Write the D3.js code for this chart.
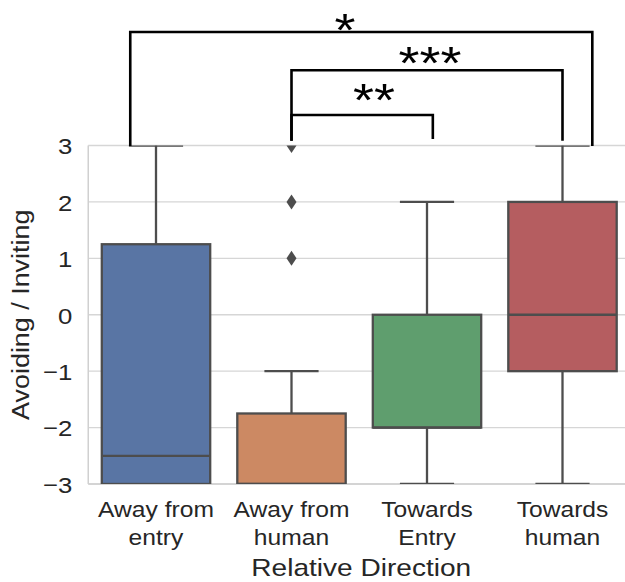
<!DOCTYPE html>
<html>
<head>
<meta charset="utf-8">
<script src="https://cdn.jsdelivr.net/npm/d3@7"></script>
<style>
  html, body { margin: 0; padding: 0; background: #fff; }
  svg { display: block; }
  text { font-family: "Liberation Sans", Arial, Helvetica, sans-serif; fill: #262626; }
</style>
</head>
<body>
<svg id="chart" width="625" height="582"></svg>
<script>
// ---- data ----
const categories = ["Away from\nentry", "Away from\nhuman", "Towards\nEntry", "Towards\nhuman"];
const whiskerLow  = [-3, -3, -3, -3];
const q1          = [-3, -3, -2, -1];
const median      = [-2.5, -3, -2, 0];
const q3          = [1.25, -1.75, 0, 2];
const whiskerHigh = [3, -1, 2, 3];
const outliers    = [[], [1, 2, 3], [], []];
const boxColors   = ["#5975a4", "#cc8963", "#5f9e6e", "#b55d60"];
const yTicks      = [-3, -2, -1, 0, 1, 2, 3];
const yLabel = "Avoiding / Inviting";
const xLabel = "Relative Direction";
// significance brackets (category index + offset, y in data units)
const bracketLabels = ["*", "***", "**"];
const bracketFrom   = [[0, -0.19], [1, 0], [1, 0]];
const bracketTo     = [[3, 0.22], [3, 0], [2, 0.043]];
const bracketTop    = [5.013, 4.335, 3.541];
const bracketBottom = [[2.99, 2.99], [3.083, 3.083], [3.083, 3.115]];
const labelPos      = [[1.395, 4.76], [2.022, 4.17], [1.609, 3.52]];

// ---- layout ----
const svg = d3.select("#chart");
const pLeft = 88.25, pRight = 630.25, pTop = 145.5, pBottom = 484;
const SX = 1.17;   // horizontal glyph stretch for labels
const SXT = 1.12;  // for tick labels

const x = d3.scaleBand().domain(d3.range(categories.length)).range([pLeft, pRight]).padding(0);
const cx = i => x(i) + x.bandwidth() / 2;
const xc = v => cx(0) + v * x.step();
const y = d3.scaleLinear().domain([-3, 3]).range([pBottom, pTop]);
const boxW = x.bandwidth() * 0.8;
const capW = boxW / 2;
const lineCol = "#4d4d4d";

svg.append("clipPath").attr("id", "plotclip")
  .append("rect").attr("x", pLeft).attr("y", pTop).attr("width", pRight - pLeft).attr("height", pBottom - pTop);

// grid
const grid = svg.append("g");
grid.selectAll("line").data(yTicks).join("line")
  .attr("x1", pLeft).attr("x2", pRight)
  .attr("y1", d => y(d)).attr("y2", d => y(d))
  .attr("stroke", "#d6d6d6").attr("stroke-width", 1.3);
// spines
svg.append("line").attr("x1", pLeft).attr("x2", pLeft).attr("y1", pTop).attr("y2", pBottom)
  .attr("stroke", "#d0d0d0").attr("stroke-width", 1.5);
svg.append("line").attr("x1", pLeft).attr("x2", pRight).attr("y1", pBottom).attr("y2", pBottom)
  .attr("stroke", "#d0d0d0").attr("stroke-width", 1.5);

// y axis tick labels via d3 axis
const yAxis = svg.append("g").attr("transform", `translate(${pLeft},0)`)
  .call(d3.axisLeft(y).tickValues(yTicks).tickSize(0).tickPadding(16).tickFormat(d => d < 0 ? "\u2212" + Math.abs(d) : d));
yAxis.select(".domain").remove();
yAxis.selectAll("text")
  .attr("font-size", 23).attr("fill", "#262626")
  .attr("font-family", "Liberation Sans, Arial, sans-serif")
  .attr("x", 0).attr("dy", "0.36em")
  .attr("transform", `translate(-16,0) scale(${SXT},1)`);

// boxes
const plot = svg.append("g").attr("clip-path", "url(#plotclip)");
const idx = d3.range(categories.length);
const g = plot.selectAll("g.box").data(idx).join("g").attr("class", "box");
g.append("line") // lower whisker
  .attr("x1", cx).attr("x2", cx).attr("y1", i => y(q1[i])).attr("y2", i => y(whiskerLow[i]))
  .attr("stroke", lineCol).attr("stroke-width", 2.3);
g.append("line") // upper whisker
  .attr("x1", cx).attr("x2", cx).attr("y1", i => y(q3[i])).attr("y2", i => y(whiskerHigh[i]))
  .attr("stroke", lineCol).attr("stroke-width", 2.3);
g.append("line") // lower cap
  .attr("x1", i => cx(i) - capW / 2).attr("x2", i => cx(i) + capW / 2)
  .attr("y1", i => y(whiskerLow[i])).attr("y2", i => y(whiskerLow[i]))
  .attr("stroke", lineCol).attr("stroke-width", 2.3);
g.append("line") // upper cap
  .attr("x1", i => cx(i) - capW / 2).attr("x2", i => cx(i) + capW / 2)
  .attr("y1", i => y(whiskerHigh[i])).attr("y2", i => y(whiskerHigh[i]))
  .attr("stroke", lineCol).attr("stroke-width", 2.3);
g.append("rect")
  .attr("x", i => cx(i) - boxW / 2).attr("width", boxW)
  .attr("y", i => y(q3[i])).attr("height", i => y(q1[i]) - y(q3[i]))
  .attr("fill", i => boxColors[i]).attr("stroke", lineCol).attr("stroke-width", 2.3);
g.append("line") // median
  .attr("x1", i => cx(i) - boxW / 2).attr("x2", i => cx(i) + boxW / 2)
  .attr("y1", i => y(median[i])).attr("y2", i => y(median[i]))
  .attr("stroke", lineCol).attr("stroke-width", 2.3);
// outliers (thin diamonds)
const outPts = idx.flatMap(i => outliers[i].map(v => ({i, v})));
plot.selectAll("path.out").data(outPts).join("path").attr("class", "out")
  .attr("d", "M0,-7.5 L5,0 L0,7.5 L-5,0 Z")
  .attr("transform", d => `translate(${cx(d.i)},${y(d.v)})`)
  .attr("fill", lineCol);

// x tick labels
const xt = svg.append("g");
idx.forEach(i => {
  const lines = categories[i].split("\n");
  lines.forEach((ln, k) => {
    xt.append("text")
      .attr("transform", `translate(${cx(i)},${516.7 + k * 28.3}) scale(${SXT},1)`)
      .attr("text-anchor", "middle").attr("font-size", 22).text(ln);
  });
});

// axis labels
svg.append("text")
  .attr("transform", `translate(${(pLeft + pRight) / 2 + 2},576) scale(${SX},1)`)
  .attr("text-anchor", "middle").attr("font-size", 24).text(xLabel);
svg.append("text")
  .attr("transform", `translate(28.5,${(pTop + pBottom) / 2}) rotate(-90) scale(${SX},1)`)
  .attr("text-anchor", "middle").attr("font-size", 23).text(yLabel);

// significance brackets
const br = svg.append("g");
bracketLabels.forEach((lab, j) => {
  const xa = xc(bracketFrom[j][0] + bracketFrom[j][1]);
  const xb = xc(bracketTo[j][0] + bracketTo[j][1]);
  const pts = [[xa, y(bracketBottom[j][0])], [xa, y(bracketTop[j])], [xb, y(bracketTop[j])], [xb, y(bracketBottom[j][1])]];
  br.append("path").attr("d", d3.line()(pts))
    .attr("fill", "none").attr("stroke", "#000").attr("stroke-width", 2.6);
  br.append("text")
    .attr("transform", `translate(${xc(labelPos[j][0])},${y(labelPos[j][1])}) scale(${SX},1)`)
    .attr("text-anchor", "middle").attr("font-size", 46)
    .style("fill", "#000").text(lab);
});
</script>
</body>
</html>
